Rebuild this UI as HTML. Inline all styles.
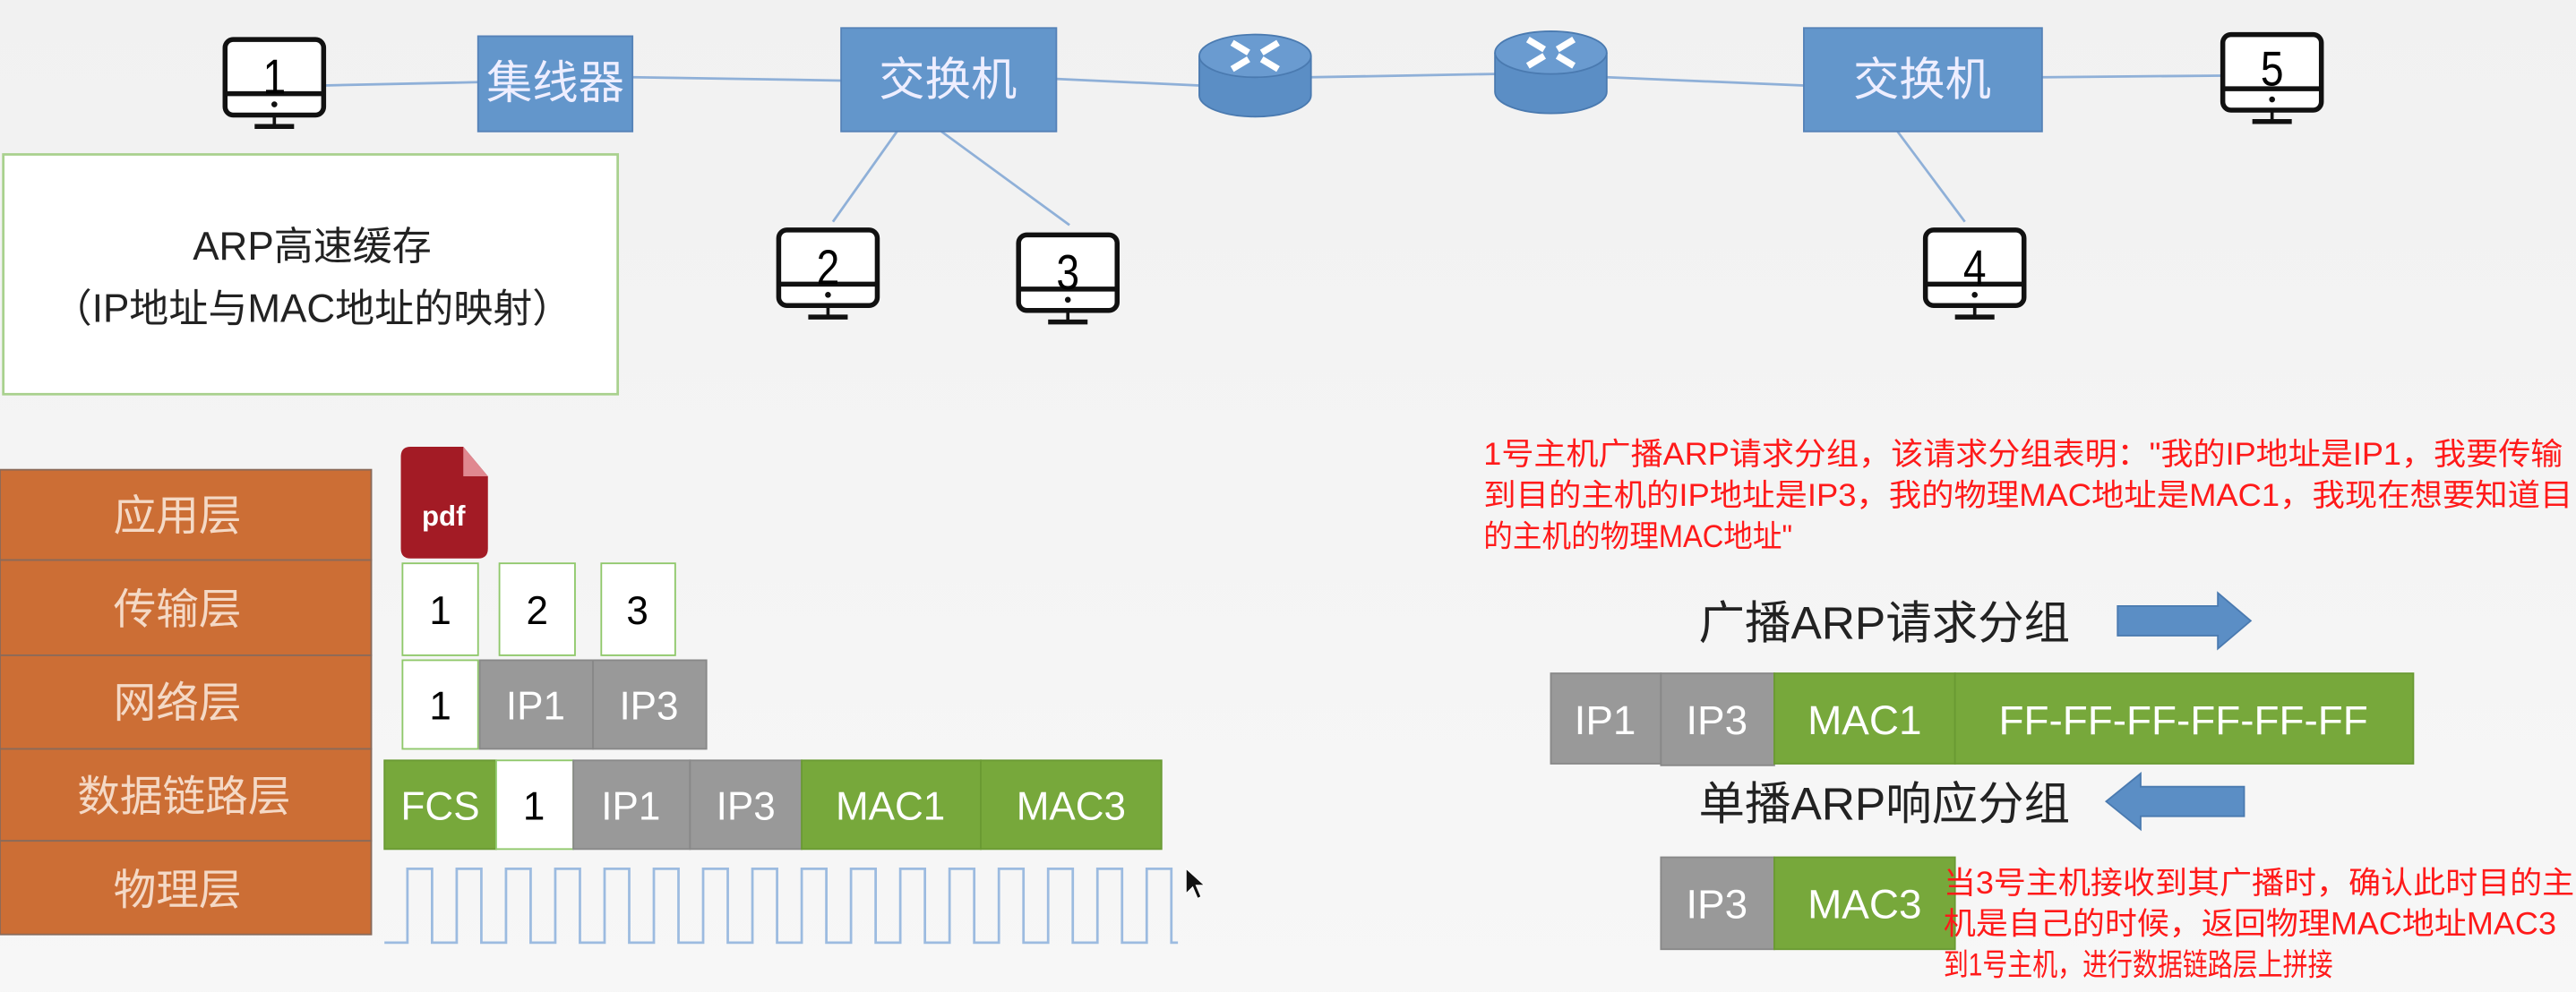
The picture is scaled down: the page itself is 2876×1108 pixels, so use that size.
<!DOCTYPE html>
<html><head><meta charset="utf-8"><style>
html,body{margin:0;padding:0;background:#f3f3f3;}
svg{display:block}
text{font-family:"Liberation Sans","Noto Sans CJK SC",sans-serif;}
</style></head><body>
<svg width="2876" height="1108" viewBox="0 0 1568 604" xmlns="http://www.w3.org/2000/svg">
<defs>
<linearGradient id="bg" x1="0" y1="0" x2="0" y2="1"><stop offset="0" stop-color="#f1f1f1"/><stop offset="1" stop-color="#f7f7f7"/></linearGradient>
<g id="mon">
<rect x="0" y="0" width="60" height="46" rx="5" fill="#fff" stroke="#111" stroke-width="3"/>
<line x1="0" y1="33" x2="60" y2="33" stroke="#111" stroke-width="3"/>
<circle cx="30" cy="39.5" r="1.8" fill="#111"/>
<line x1="30" y1="46" x2="30" y2="52" stroke="#111" stroke-width="2"/>
<line x1="18" y1="53" x2="42" y2="53" stroke="#111" stroke-width="3"/>
</g>
<g id="rt">
<path d="M0,14 L0,38 A34,13 0 0 0 68,38 L68,14" fill="#5b8ec5" stroke="#4a7ab0"/>
<ellipse cx="34" cy="14" rx="34" ry="13" fill="#6a9bd0" stroke="#4a7ab0"/>
<path d="M20,6 L30,12 M48,6 L38,12 M20,22 L30,16 M48,22 L38,16" stroke="#fff" stroke-width="4"/>
</g>
</defs>
<rect width="1568" height="604" fill="url(#bg)"/>
<g stroke="#8fb0d8" stroke-width="1.5" fill="none">
<line x1="197" y1="52" x2="291" y2="50"/>
<line x1="385" y1="47" x2="512" y2="49"/>
<line x1="643" y1="48" x2="730" y2="52"/>
<line x1="798" y1="47" x2="910" y2="45"/>
<line x1="978" y1="47" x2="1098" y2="52"/>
<line x1="1243" y1="47" x2="1352" y2="46"/>
<line x1="546" y1="80" x2="507" y2="135"/>
<line x1="573" y1="80" x2="651" y2="137"/>
<line x1="1155" y1="80" x2="1196" y2="135"/>
</g>
<rect x="291" y="22" width="94" height="58" fill="#6396cb" stroke="#5582b8"/>
<text x="338" y="60" font-size="28" fill="#eef" text-anchor="middle">集线器</text>
<rect x="512" y="17" width="131" height="63" fill="#6396cb" stroke="#5582b8"/>
<text x="577" y="58" font-size="28" fill="#eef" text-anchor="middle">交换机</text>
<rect x="1098" y="17" width="145" height="63" fill="#6396cb" stroke="#5582b8"/>
<text x="1170" y="58" font-size="28" fill="#eef" text-anchor="middle">交换机</text>
<use href="#rt" x="730" y="20"/>
<use href="#rt" x="910" y="18"/>
<g font-size="30" text-anchor="middle">
<use href="#mon" x="137" y="24"/><text x="167" y="57" textLength="14" lengthAdjust="spacingAndGlyphs">1</text>
<use href="#mon" x="1353" y="21"/><text x="1383" y="52" textLength="14" lengthAdjust="spacingAndGlyphs">5</text>
<use href="#mon" x="474" y="140"/><text x="504" y="173" textLength="14" lengthAdjust="spacingAndGlyphs">2</text>
<use href="#mon" x="620" y="143"/><text x="650" y="176" textLength="14" lengthAdjust="spacingAndGlyphs">3</text>
<use href="#mon" x="1172" y="140"/><text x="1202" y="173" textLength="14" lengthAdjust="spacingAndGlyphs">4</text>
</g>
<rect x="2" y="94" width="374" height="146" fill="#fff" stroke="#a9d18e" stroke-width="1.5"/>
<text x="190" y="158" font-size="24" text-anchor="middle" fill="#222">ARP高速缓存</text>
<text x="190" y="196" font-size="24" text-anchor="middle" fill="#222">（IP地址与MAC地址的映射）</text>
<g font-size="26" fill="#f4d9c6" text-anchor="middle">
<rect x="0" y="286" width="226" height="55" fill="#cc6e35" stroke="#8a6a5a"/><text x="108" y="323">应用层</text>
<rect x="0" y="341" width="226" height="58" fill="#cc6e35" stroke="#8a6a5a"/><text x="108" y="380">传输层</text>
<rect x="0" y="399" width="226" height="57" fill="#cc6e35" stroke="#8a6a5a"/><text x="108" y="437">网络层</text>
<rect x="0" y="456" width="226" height="56" fill="#cc6e35" stroke="#8a6a5a"/><text x="112" y="494">数据链路层</text>
<rect x="0" y="512" width="226" height="57" fill="#cc6e35" stroke="#8a6a5a"/><text x="108" y="551">物理层</text>
</g>
<path d="M250,272 L282,272 L297,290 L297,334 Q297,340 291,340 L250,340 Q244,340 244,334 L244,278 Q244,272 250,272Z" fill="#a31b25"/>
<path d="M282,272 L297,290 L282,290Z" fill="#e08890"/>
<text x="270" y="320" font-size="17" font-weight="bold" fill="#fff" text-anchor="middle">pdf</text>
<g font-size="24" text-anchor="middle">
<rect x="245" y="343" width="46" height="56" fill="#fff" stroke="#8fc86a"/><text x="268" y="380">1</text>
<rect x="304" y="343" width="46" height="56" fill="#fff" stroke="#8fc86a"/><text x="327" y="380">2</text>
<rect x="366" y="343" width="45" height="56" fill="#fff" stroke="#8fc86a"/><text x="388" y="380">3</text>
<rect x="245" y="402" width="46" height="54" fill="#fff" stroke="#8fc86a"/><text x="268" y="438">1</text>
<rect x="292" y="402" width="69" height="54" fill="#999" stroke="#888"/><text x="326" y="438" fill="#fff">IP1</text>
<rect x="361" y="402" width="69" height="54" fill="#999" stroke="#888"/><text x="395" y="438" fill="#fff">IP3</text>
<rect x="234" y="463" width="68" height="54" fill="#77a83b" stroke="#6a9a33"/><text x="268" y="499" fill="#fff">FCS</text>
<rect x="302" y="463" width="47" height="54" fill="#fff" stroke="#8fc86a"/><text x="325" y="499">1</text>
<rect x="349" y="463" width="71" height="54" fill="#999" stroke="#888"/><text x="384" y="499" fill="#fff">IP1</text>
<rect x="420" y="463" width="68" height="54" fill="#999" stroke="#888"/><text x="454" y="499" fill="#fff">IP3</text>
<rect x="488" y="463" width="109" height="54" fill="#77a83b" stroke="#6a9a33"/><text x="542" y="499" fill="#fff">MAC1</text>
<rect x="597" y="463" width="110" height="54" fill="#77a83b" stroke="#6a9a33"/><text x="652" y="499" fill="#fff">MAC3</text>
</g>
<path d="M234,574 L248,574 L248,529 L263,529 L263,574 L278,574 L278,529 L293,529 L293,574 L308,574 L308,529 L323,529 L323,574 L338,574 L338,529 L353,529 L353,574 L368,574 L368,529 L383,529 L383,574 L398,574 L398,529 L413,529 L413,574 L428,574 L428,529 L443,529 L443,574 L458,574 L458,529 L473,529 L473,574 L488,574 L488,529 L503,529 L503,574 L518,574 L518,529 L533,529 L533,574 L548,574 L548,529 L563,529 L563,574 L578,574 L578,529 L593,529 L593,574 L608,574 L608,529 L623,529 L623,574 L638,574 L638,529 L653,529 L653,574 L668,574 L668,529 L683,529 L683,574 L698,574 L698,529 L713,529 L713,574 L717,574" fill="none" stroke="#9cbbe0" stroke-width="1.5"/>
<path d="M722,529 L722,544 L726,540 L729,547 L731,546 L728,539 L733,539Z" fill="#111" stroke="#fff" stroke-width="0.5"/>
<text x="1034" y="389" font-size="28" fill="#222" textLength="226" lengthAdjust="spacingAndGlyphs">广播ARP请求分组</text>
<path d="M1289,369 L1350,369 L1350,361 L1370,378 L1350,395 L1350,387 L1289,387Z" fill="#5b8ec5" stroke="#4a7ab0"/>
<text x="1034" y="499" font-size="28" fill="#222" textLength="226" lengthAdjust="spacingAndGlyphs">单播ARP响应分组</text>
<path d="M1366,479 L1303,479 L1303,471 L1282,488 L1303,505 L1303,497 L1366,497Z" fill="#5b8ec5" stroke="#4a7ab0"/>
<g font-size="25" fill="#fff" text-anchor="middle">
<rect x="944" y="410" width="67" height="55" fill="#999" stroke="#888"/><text x="977" y="447">IP1</text>
<rect x="1011" y="410" width="69" height="56" fill="#999" stroke="#888"/><text x="1045" y="447">IP3</text>
<rect x="1080" y="410" width="110" height="55" fill="#77a83b" stroke="#6a9a33"/><text x="1135" y="447">MAC1</text>
<rect x="1190" y="410" width="279" height="55" fill="#77a83b" stroke="#6a9a33"/><text x="1329" y="447">FF-FF-FF-FF-FF-FF</text>
<rect x="1011" y="522" width="69" height="56" fill="#999" stroke="#888"/><text x="1045" y="559">IP3</text>
<rect x="1080" y="522" width="110" height="56" fill="#77a83b" stroke="#6a9a33"/><text x="1135" y="559">MAC3</text>
</g>
<g font-size="19" fill="#ff1a1a" lengthAdjust="spacingAndGlyphs">
<text x="903" y="283" textLength="657" lengthAdjust="spacingAndGlyphs">1号主机广播ARP请求分组，该请求分组表明："我的IP地址是IP1，我要传输</text>
<text x="903" y="308" textLength="663" lengthAdjust="spacingAndGlyphs">到目的主机的IP地址是IP3，我的物理MAC地址是MAC1，我现在想要知道目</text>
<text x="903" y="333" textLength="188" lengthAdjust="spacingAndGlyphs">的主机的物理MAC地址"</text>
<text x="1183" y="544" textLength="384" lengthAdjust="spacingAndGlyphs">当3号主机接收到其广播时，确认此时目的主</text>
<text x="1183" y="569" textLength="373" lengthAdjust="spacingAndGlyphs">机是自己的时候，返回物理MAC地址MAC3</text>
<text x="1183" y="594" textLength="237" lengthAdjust="spacingAndGlyphs">到1号主机，进行数据链路层上拼接</text>
</g>
</svg>
</body></html>
